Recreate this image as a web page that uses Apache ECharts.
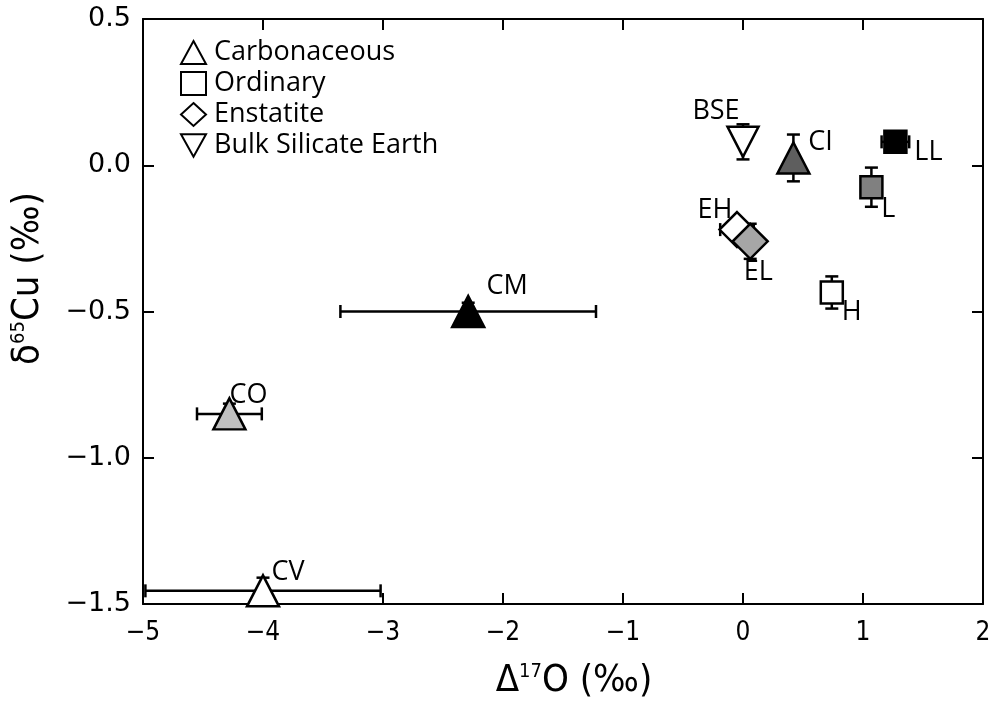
<!DOCTYPE html>
<html>
<head>
<meta charset="utf-8">
<title>Cu isotopes vs oxygen isotopes</title>
<script src="https://cdn.jsdelivr.net/npm/echarts@6/dist/echarts.min.js"></script>
<style>
html, body { margin: 0; padding: 0; background: #fff; }
#main { width: 996px; height: 707px; }
</style>
</head>
<body>
<div id="main"></div>
<script>
// 数据
var names = ['CV', 'CO', 'CM', 'CI', 'LL', 'L', 'H', 'EH', 'EL', 'BSE'];
var groups = ['Carbonaceous', 'Carbonaceous', 'Carbonaceous', 'Carbonaceous',
	'Ordinary', 'Ordinary', 'Ordinary', 'Enstatite', 'Enstatite', 'Bulk Silicate Earth'];
var d17O = [-4.00, -4.28, -2.29, 0.42, 1.27, 1.07, 0.74, -0.05, 0.06, 0.00];
var d65Cu = [-1.455, -0.85, -0.50, 0.025, 0.08, -0.075, -0.435, -0.22, -0.26, 0.08];
var xErr = [0.98, 0.27, 1.065, 0, 0.115, 0, 0, 0.14, 0, 0];
var yErr = [0.045, 0.035, 0.03, 0.08, 0, 0.067, 0.055, 0, 0.06, 0.06];
var groupNames = ['Carbonaceous', 'Ordinary', 'Enstatite', 'Bulk Silicate Earth'];

// 样式
var fillColor = {
	CV: '#ffffff', CO: '#c0c0c0', CM: '#000000', CI: '#5e5e5e',
	LL: '#000000', L: '#808080', H: '#ffffff',
	EH: '#ffffff', EL: '#a6a6a6', BSE: '#ffffff'
};
var labelOffset = {
	CV: [25, -19], CO: [19, -19], CM: [39, -25], CI: [27, -16],
	LL: [33, 10], L: [17, 22], H: [20, 20],
	EH: [-22, -19], EL: [8, 31], BSE: [-27, -31]
};
var groupSymbol = {
	'Carbonaceous': { symbol: 'triangle', size: [32, 31], rotate: 0 },
	'Ordinary': { symbol: 'rect', size: [22, 22], rotate: 0 },
	'Enstatite': { symbol: 'diamond', size: [35, 35], rotate: 0 },
	'Bulk Silicate Earth': { symbol: 'triangle', size: [31, 30], rotate: 180 }
};
var labelFont = 'Open Sans';
var condFont = '"DejaVu Sans Condensed", "Liberation Sans Narrow", sans-serif';

/**
 * 误差棒
 */
var _errorBars = function() {
	var data = [];
	for(var i = 0; i < names.length; i++) {
		data.push([d17O[i], d65Cu[i], xErr[i], yErr[i]]);
	}
	return {
		type: 'custom',
		silent: true,
		z: 1,
		data: data,
		encode: { x: 0, y: 1 },
		renderItem: function(params, api) {
			var x = api.value(0), y = api.value(1);
			var ex = api.value(2), ey = api.value(3);
			var cap = 6.5;
			var st = { stroke: '#000', lineWidth: 2.5 };
			var kids = [];
			var line = function(x1, y1, x2, y2) {
				kids.push({ type: 'line', shape: { x1: x1, y1: y1, x2: x2, y2: y2 }, style: st });
			};
			if(ex > 0) {
				var a = api.coord([x - ex, y]), b = api.coord([x + ex, y]);
				line(a[0], a[1], b[0], b[1]);
				line(a[0], a[1] - cap, a[0], a[1] + cap);
				line(b[0], b[1] - cap, b[0], b[1] + cap);
			}
			if(ey > 0) {
				var c = api.coord([x, y - ey]), d = api.coord([x, y + ey]);
				line(c[0], c[1], d[0], d[1]);
				line(c[0] - cap, c[1], c[0] + cap, c[1]);
				line(d[0] - cap, d[1], d[0] + cap, d[1]);
			}
			return { type: 'group', children: kids };
		}
	};
}

/**
 * 每个类型一个散点系列
 */
var _groupSeries = function(g) {
	var s = groupSymbol[g];
	var data = [];
	for(var i = 0; i < names.length; i++) {
		if(groups[i] !== g) continue;
		data.push({
			name: names[i],
			value: [d17O[i], d65Cu[i]],
			itemStyle: { color: fillColor[names[i]] },
			label: { offset: labelOffset[names[i]] }
		});
	}
	return {
		name: g,
		type: 'scatter',
		z: 3,
		symbol: s.symbol,
		symbolSize: s.size,
		symbolRotate: s.rotate,
		itemStyle: { color: '#ffffff', borderColor: '#000', borderWidth: 2.5, opacity: 1 },
		label: {
			show: true,
			position: 'inside',
			formatter: '{b}',
			color: '#000',
			fontFamily: labelFont,
			fontSize: 27,
			textBorderWidth: 0
		},
		emphasis: { disabled: true },
		data: data
	};
}

var _fmtY = function(v) {
	return v.toFixed(1).replace('-', '\u2212');
}
var _fmtX = function(v) {
	return String(v).replace('-', '\u2212');
}

var axisCommon = {
	axisLine: { show: true, onZero: false, lineStyle: { color: '#000', width: 2 } },
	axisTick: { show: true, inside: true, length: 11, lineStyle: { color: '#000', width: 2 } },
	splitLine: { show: false }
};

var _start = function() {
	var series = [_errorBars()];
	for(var i = 0; i < groupNames.length; i++) {
		series.push(_groupSeries(groupNames[i]));
	}
	var legendData = [];
	for(var j = 0; j < groupNames.length; j++) {
		var gs = groupSymbol[groupNames[j]];
		legendData.push({
			name: groupNames[j],
			icon: gs.rotate ? 'path://M0,0L20,0L10,18Z' : gs.symbol,
			symbolRotate: 0,
			itemStyle: { color: '#fff', borderColor: '#000', borderWidth: 2 }
		});
	}
	var option = {
		animation: false,
		backgroundColor: '#fff',
		grid: { left: 143, top: 19, right: 13, bottom: 103 },
		legend: {
			data: legendData,
			orient: 'vertical',
			left: 175,
			top: 34,
			itemWidth: 25,
			itemHeight: 23,
			itemGap: 4,
			selectedMode: false,
			textStyle: { fontFamily: labelFont, fontSize: 27, lineHeight: 23, color: '#000', padding: [0, 0, 0, 3] }
		},
		xAxis: [Object.assign({
			type: 'value', min: -5, max: 2, interval: 1,
			name: '\u0394{sup|17}O (\u2030)',
			nameLocation: 'middle',
			nameGap: 58,
			nameTextStyle: {
				fontFamily: condFont, fontSize: 38, color: '#000', padding: [0, 0, 0, 22],
				rich: { sup: { fontFamily: condFont, fontSize: 20, verticalAlign: 'top', padding: [0, 0, 14, 0] } }
			},
			axisLabel: { formatter: _fmtX, fontFamily: condFont, fontSize: 26, color: '#000', margin: 16 }
		}, axisCommon), Object.assign({
			type: 'value', min: -5, max: 2, interval: 1, position: 'top',
			axisLabel: { show: false }
		}, axisCommon)],
		yAxis: [Object.assign({
			type: 'value', min: -1.5, max: 0.5, interval: 0.5,
			name: '\u03b4{sup|65}Cu (\u2030)',
			nameLocation: 'middle',
			nameGap: 96,
			nameRotate: 90,
			nameTextStyle: {
				fontFamily: condFont, fontSize: 38, color: '#000', padding: [0, 0, 0, 66],
				rich: { sup: { fontFamily: condFont, fontSize: 20, verticalAlign: 'top', padding: [0, 0, 14, 0] } }
			},
			axisLabel: { formatter: _fmtY, fontFamily: 'DejaVu Sans', fontSize: 27, color: '#000', margin: 12 }
		}, axisCommon), Object.assign({
			type: 'value', min: -1.5, max: 0.5, interval: 0.5, position: 'right',
			axisLabel: { show: false }
		}, axisCommon)],
		series: series
	};
	var chart = echarts.init(document.getElementById('main'));
	chart.setOption(option);
}
_start();
</script>
</body>
</html>
